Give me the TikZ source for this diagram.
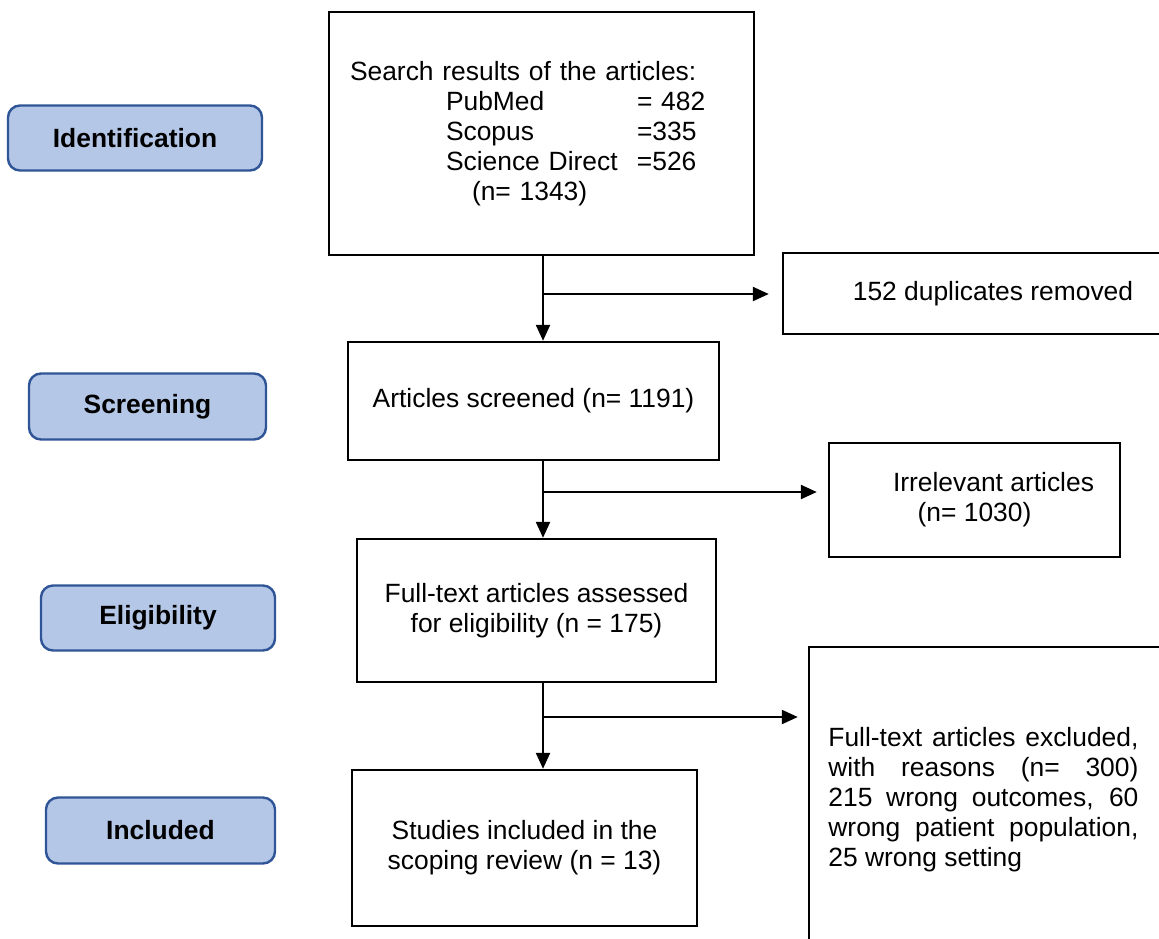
\documentclass[tikz,border=0pt]{standalone}
\usepackage{fontspec}
\setmainfont{Liberation Sans}
\usetikzlibrary{arrows.meta}
\definecolor{stagefill}{RGB}{180,199,231}
\definecolor{stageline}{RGB}{47,85,151}
\tikzset{
  stage/.style={draw=stageline, fill=stagefill, line width=1.2pt, rounded corners=6pt, font=\fontsize{13.2}{15}\selectfont\bfseries, align=center},
  box/.style={draw, line width=1.2pt, align=center, inner sep=0pt},
  flow/.style={-{Triangle[length=8pt,width=7pt]}, line width=1.1pt}
}
\begin{document}
\begin{tikzpicture}[x=0.5pt,y=-0.5pt,font=\fontsize{13.2}{15}\selectfont]
\useasboundingbox (0,0) rectangle (1159,938);
\clip (0,0) rectangle (1159,938);
%Stages
\node[stage, minimum width=127pt, minimum height=32.5pt] (ident) at (135,138) {Identification};
\node[stage, minimum width=118.5pt, minimum height=33pt] (scr) at (147.5,406.5) {Screening};
\node[stage, minimum width=117pt, minimum height=32.5pt] (elig) at (158,618) {Eligibility};
\node[stage, minimum width=114.5pt, minimum height=33pt] (incl) at (160.5,830.5) {Included};
%Main column
\node[box, minimum height=121.5pt, text width=191.5pt, inner xsep=10.5pt, align=left] (search) at (541.5,133.5) {Search results of the articles:\\
\hspace*{48pt}\makebox[95.5pt][l]{PubMed}= 482\\
\hspace*{48pt}\makebox[95.5pt][l]{Scopus}=335\\
\hspace*{48pt}\makebox[95.5pt][l]{Science Direct}=526\\
\hspace*{61pt}(n= 1343)};
\node[box, minimum width=185.5pt, minimum height=59pt] (screen) at (533.5,401) {Articles screened (n= 1191)};
\node[box, minimum width=179.5pt, minimum height=71.5pt] (assess) at (536.5,610.5) {Full-text articles assessed\\for eligibility (n = 175)};
\node[box, minimum width=172.5pt, minimum height=78pt] (study) at (524.5,848) {Studies included in the\\scoping review (n = 13)};
%Side boxes
\node[box, minimum width=210pt, minimum height=40.5pt] (dup) at (993,293.5) {152 duplicates removed};
\node[box, minimum width=145.5pt, minimum height=57pt] (irr) at (974.5,500) {\hspace*{19pt}Irrelevant articles\\(n= 1030)};
\node[box, minimum width=180.5pt, minimum height=150pt] (excl) at (989.5,797) {};
\node[anchor=north west, inner sep=0pt, text width=155pt, align=justify] (excltext) at (828,727) {\hyphenpenalty=10000 Full-text articles excluded,\linebreak with reasons (n= 300)\linebreak 215 wrong outcomes, 60\linebreak wrong patient population,\linebreak 25 wrong setting};
%Arrows
\coordinate (spine) at (543,0);
\coordinate (fork1) at (543,294);
\coordinate (fork2) at (543,492);
\coordinate (fork3) at (543,717);
\draw[flow] (search.south -| spine) -- (screen.north -| spine);
\draw[flow] (screen.south -| spine) -- (assess.north -| spine);
\draw[flow] (assess.south -| spine) -- (study.north -| spine);
\draw[flow, shorten >=6.5pt] (fork1) -- (dup.west |- fork1);
\draw[flow, shorten >=5.5pt] (fork2) -- (irr.west |- fork2);
\draw[flow, shorten >=5pt] (fork3) -- (excl.west |- fork3);
\end{tikzpicture}
\end{document}
